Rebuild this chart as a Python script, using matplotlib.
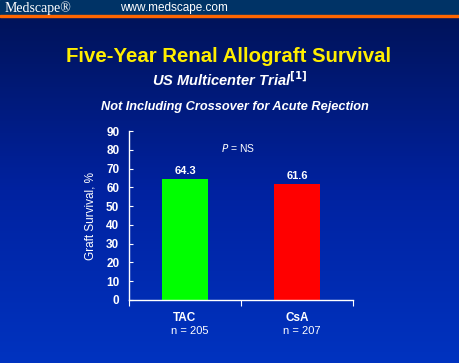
import matplotlib
matplotlib.use("Agg")
import matplotlib.pyplot as plt
import numpy as np
from matplotlib.colors import LinearSegmentedColormap

groups = ["TAC", "CsA"]
sizes = ["n = 205", "n = 207"]
survival = [64.3, 61.6]
bar_colors = ["#00ff00", "#ff0000"]
yticks = [0, 10, 20, 30, 40, 50, 60, 70, 80, 90]

plt.rcParams['font.family'] = ['Liberation Sans', 'DejaVu Sans']

fig = plt.figure(figsize=(4.6, 3.63), dpi=100)

# background gradient + header band
bg = fig.add_axes([0, 0, 1, 1])
bg.set_axis_off()
cmap = LinearSegmentedColormap.from_list("bg", ["#00135a", "#0022a0", "#0033c0"])
grad = np.linspace(0, 1, 256).reshape(-1, 1)
bg.imshow(grad, aspect='auto', cmap=cmap, extent=[0, 1, 0, 1 - 17 / 363])
bg.axhspan(1 - 15 / 363, 1, color="#003366")
bg.axhspan(1 - 17 / 363, 1 - 15 / 363, color="#ff6600")
bg.set_xlim(0, 1)
bg.set_ylim(0, 1)

fig.text(5 / 460, 1 - 8 / 363, "Medscape®", family="Liberation Serif", color="white",
         fontsize=10, va="center", ha="left")
fig.text(120 / 460, 1 - 8 / 363, "www.medscape.com", color="white",
         fontsize=8.5, va="center", ha="left")

fig.text(229 / 460, 1 - 57 / 363, "Five-Year Renal Allograft Survival", color="#ffee00",
         fontsize=14.7, fontweight="bold", ha="center", va="center")
fig.text(0.5, 1 - 80 / 363, "US Multicenter Trial$^{\\mathbf{[1]}}$", color="white",
         fontsize=10.5, fontweight="bold", fontstyle="italic", ha="center", va="center")
fig.text(235 / 460, 1 - 107 / 363, "Not Including Crossover for Acute Rejection", color="white",
         fontsize=9.2, fontweight="bold", fontstyle="italic", ha="center", va="center")

ax = fig.add_axes([129 / 460, 63 / 363, 224 / 460, 169 / 363])
ax.patch.set_alpha(0)
x = np.arange(len(groups)) + 0.5
ax.bar(x, survival, width=0.41, color=bar_colors, zorder=2)
for xi, v in zip(x, survival):
    ax.text(xi, v + 2, f"{v}", color="white", fontsize=8, fontweight="bold",
            ha="center", va="bottom")

ax.set_xlim(0, 2)
ax.set_ylim(0, 90)
ax.set_xticks([0, 1, 2])
ax.set_xticklabels([])
ax.set_yticks(yticks)
ax.set_yticklabels([str(t) for t in yticks], color="white", fontsize=8.5, fontweight="bold")
ax.tick_params(axis='y', direction='in', length=3, color="white", pad=7)
ax.tick_params(axis='x', direction='out', length=4, color="white")
for s in ["top", "right"]:
    ax.spines[s].set_visible(False)
for s in ["left", "bottom"]:
    ax.spines[s].set_color("white")
    ax.spines[s].set_linewidth(1)

ax.set_ylabel("Graft Survival, %", color="white", fontsize=8.5, labelpad=7)

for xi, g, n in zip(x, groups, sizes):
    ax.text(xi, -9.5, g, color="white", fontsize=8.5, fontweight="bold", ha="center", va="center")
    ax.text(xi + 0.04, -16.5, n, color="white", fontsize=8, ha="center", va="center")

ax.text(0.97, 81, "$\\it{P}$ = NS", color="white", fontsize=7.5, ha="center", va="center")

fig.savefig("out.png", dpi=100)
